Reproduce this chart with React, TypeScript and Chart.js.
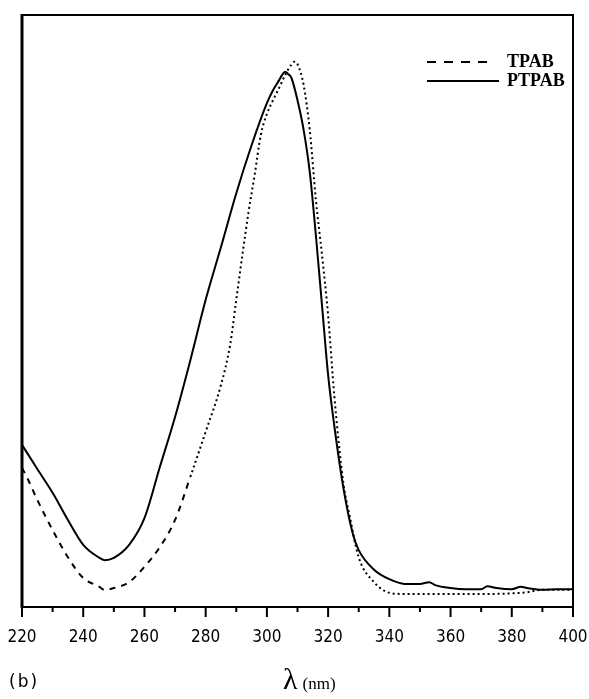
import React, { useEffect, useRef } from 'react';
import { Chart, registerables } from 'chart.js';

Chart.register(...registerables);

// TPAB (dashed line)
const tpabWavelength = [
  220, 222, 225, 230, 235, 240, 245, 247, 250, 255, 260, 265, 270, 275, 280, 285, 288, 290,
  292, 294, 296, 298, 300, 302, 304, 306, 308, 309, 310, 312, 314, 316, 318, 320, 322, 325,
  327, 330, 335, 340, 345, 350, 360, 370, 380, 385, 390, 395, 400,
];
const tpabAbsorbance = [
  0.235, 0.215, 0.181, 0.130, 0.084, 0.049, 0.035, 0.029, 0.032, 0.042, 0.068, 0.101, 0.147,
  0.220, 0.296, 0.375, 0.443, 0.519, 0.595, 0.667, 0.730, 0.797, 0.833, 0.856, 0.877, 0.899,
  0.916, 0.921, 0.917, 0.882, 0.806, 0.688, 0.595, 0.493, 0.358, 0.209, 0.155, 0.084, 0.042,
  0.024, 0.022, 0.022, 0.022, 0.022, 0.023, 0.025, 0.029, 0.029, 0.029,
];

// PTPAB (solid line)
const ptpabWavelength = [
  220, 225, 230, 235, 240, 245, 247, 250, 255, 260, 265, 270, 275, 280, 285, 290, 295, 300,
  302, 304, 305, 306, 307, 308, 310, 312, 314, 316, 318, 320, 322, 325, 328, 330, 335, 340,
  345, 350, 353, 355, 360, 365, 370, 372, 375, 380, 383, 385, 390, 395, 400,
];
const ptpabAbsorbance = [
  0.274, 0.233, 0.193, 0.147, 0.105, 0.084, 0.079, 0.083, 0.105, 0.150, 0.236, 0.321, 0.417,
  0.519, 0.608, 0.699, 0.780, 0.851, 0.873, 0.890, 0.899, 0.904, 0.900, 0.894, 0.856, 0.806,
  0.735, 0.628, 0.510, 0.392, 0.307, 0.201, 0.125, 0.096, 0.063, 0.047, 0.039, 0.039, 0.042,
  0.037, 0.032, 0.030, 0.030, 0.035, 0.032, 0.030, 0.034, 0.032, 0.029, 0.030, 0.030,
];

const xMin = 220;
const xMax = 400;
const xStep = 10;
const xLabelStep = 20;

const seriesLabels = ['TPAB', 'PTPAB'];

const tickFont = '"Liberation Sans Narrow", "DejaVu Sans Condensed", "Liberation Sans", sans-serif';

const framePlugin = {
  id: 'frameTicksLegend',
  afterDraw(chart: any) {
    const { ctx, chartArea: a, scales } = chart;
    const xs = scales.x;
    ctx.save();
    ctx.strokeStyle = '#000';
    ctx.setLineDash([]);
    // frame
    ctx.lineWidth = 3;
    ctx.beginPath();
    ctx.moveTo(a.left, a.top - 1);
    ctx.lineTo(a.left, a.bottom + 1);
    ctx.stroke();
    ctx.lineWidth = 2;
    ctx.beginPath();
    ctx.moveTo(a.left, a.top);
    ctx.lineTo(a.right, a.top);
    ctx.lineTo(a.right, a.bottom);
    ctx.lineTo(a.left, a.bottom);
    ctx.stroke();
    // tick marks
    ctx.lineWidth = 2;
    xs.ticks.forEach((t: any) => {
      const px = xs.getPixelForValue(t.value);
      const major = (t.value - xMin) % xLabelStep === 0;
      ctx.beginPath();
      ctx.moveTo(px, a.bottom);
      ctx.lineTo(px, a.bottom + (major ? 10 : 5));
      ctx.stroke();
    });
    // legend
    const ds = chart.data.datasets;
    const lineX0 = a.right - 146;
    const lineX1 = a.right - 80;
    const textX = a.right - 66;
    ds.forEach((d: any, i: number) => {
      const y = a.top + 47 + i * 19;
      ctx.lineWidth = 2;
      ctx.setLineDash(i === 0 ? [9, 8] : []);
      ctx.beginPath();
      ctx.moveTo(lineX0, y);
      ctx.lineTo(lineX1 + (i === 0 ? 0 : 6), y);
      ctx.stroke();
      ctx.setLineDash([]);
      ctx.fillStyle = '#000';
      ctx.font = 'bold 18px "Liberation Serif", "DejaVu Serif", serif';
      ctx.textBaseline = 'middle';
      ctx.textAlign = 'left';
      ctx.fillText(d.label, textX, y);
    });
    ctx.restore();
  },
};

export default function App() {
  const canvasRef = useRef<HTMLCanvasElement | null>(null);

  useEffect(() => {
    if (!canvasRef.current) return;
    const chart = new Chart(canvasRef.current, {
      type: 'line',
      data: {
        datasets: [
          {
            label: seriesLabels[0],
            data: tpabWavelength.map((x, i) => ({ x, y: tpabAbsorbance[i] })),
            borderColor: '#000',
            borderWidth: 2,
            pointRadius: 0,
            fill: false,
            cubicInterpolationMode: 'monotone',
            borderDash: [6, 6],
            segment: {
              borderDash: (c: any) => (c.p0.parsed.x < 272 ? [6, 6] : [2, 3]),
            },
          },
          {
            label: seriesLabels[1],
            data: ptpabWavelength.map((x, i) => ({ x, y: ptpabAbsorbance[i] })),
            borderColor: '#000',
            borderWidth: 2,
            pointRadius: 0,
            fill: false,
            cubicInterpolationMode: 'monotone',
          },
        ],
      },
      options: {
        animation: false,
        responsive: true,
        maintainAspectRatio: false,
        layout: { padding: { left: 22, right: 16, top: 15, bottom: 0 } },
        plugins: { legend: { display: false }, tooltip: { enabled: false } },
        scales: {
          x: {
            type: 'linear',
            min: xMin,
            max: xMax,
            position: 'bottom',
            border: { display: false },
            grid: { display: false, drawTicks: false },
            ticks: {
              stepSize: xStep,
              autoSkip: false,
              maxRotation: 0,
              padding: 20,
              color: '#000',
              font: { family: tickFont, size: 17 },
              callback: (v: any) => ((Number(v) - xMin) % xLabelStep === 0 ? String(v) : ''),
            },
            afterFit: (s: any) => {
              s.height = 92;
              s.paddingLeft = 0;
              s.paddingRight = 0;
            },
          },
          y: { display: false, min: 0, max: 1 },
        },
      },
      plugins: [framePlugin],
    } as any);
    return () => chart.destroy();
  }, []);

  return (
    <div style={{ position: 'absolute', left: 0, top: 0, width: 589, height: 699, background: '#fff' }}>
      <canvas ref={canvasRef} />
      <div
        style={{
          position: 'absolute',
          left: 9,
          top: 671,
          fontFamily: '"DejaVu Sans", sans-serif',
          fontSize: 17,
          letterSpacing: 2,
          color: '#000',
        }}
      >
        (b)
      </div>
      <div
        style={{
          position: 'absolute',
          left: 283,
          top: 662,
          fontFamily: '"Liberation Serif", serif',
          color: '#000',
          whiteSpace: 'nowrap',
        }}
      >
        <span style={{ fontSize: 30 }}>λ</span>
        <span style={{ fontSize: 17, marginLeft: 5 }}>(nm)</span>
      </div>
    </div>
  );
}
